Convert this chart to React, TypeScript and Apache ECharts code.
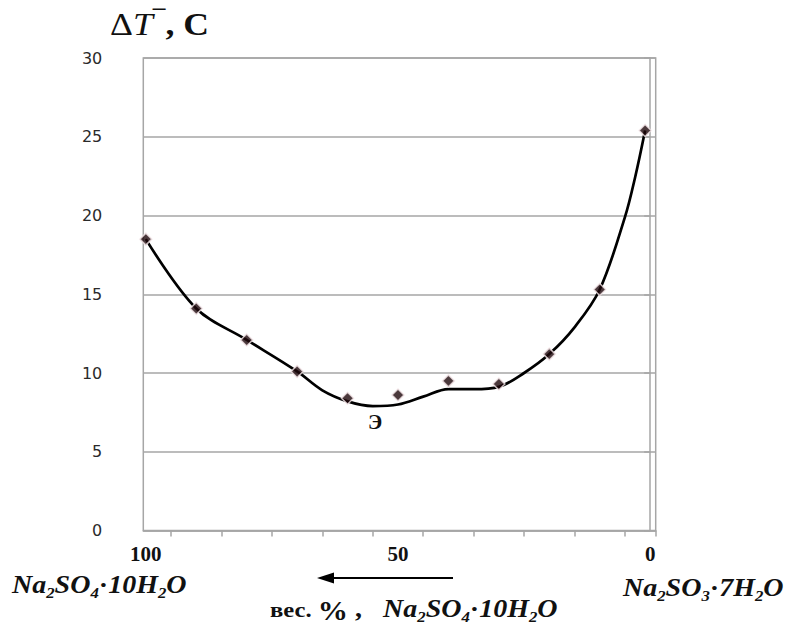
import React, { useEffect, useRef } from 'react';
import * as echarts from 'echarts';

// Measured points (x = wt.% Na2SO4·10H2O, y = ΔT⁻)
const markerX = [100, 90, 80, 70, 60, 50, 40, 30, 20, 10, 1];
const markerY = [18.5, 14.1, 12.1, 10.1, 8.4, 8.6, 9.5, 9.3, 11.2, 15.3, 25.4];

// Hand-drawn smoothed curve
const curveX = [100, 90, 80, 70, 65, 60, 55, 50, 45, 40, 35, 30, 25, 20, 15, 10, 5, 3, 1];
const curveY = [18.5, 14.1, 12.1, 10.1, 8.9, 8.2, 7.9, 8.0, 8.5, 8.98, 8.97, 9.12, 10.0, 11.2, 12.9, 15.3, 19.9, 22.4, 25.4];

const xTickValues = [95, 85, 75, 65, 55, 45, 35, 25, 15, 5];
const xLabelValues = [100, 50, 0];
const X_MIN = -1.1;
const X_MAX = 100.5;
const Y_MIN = 0;
const Y_MAX = 30;
const Y_STEP = 5;

const SERIF = '"Liberation Serif", "Times New Roman", serif';

export default function App() {
  const ref = useRef<HTMLDivElement>(null);
  useEffect(() => {
    const chart = echarts.init(ref.current!, null, { renderer: 'svg' });
    const gray = '#a6a6a6';
    const formulaRich = {
      m: { fontFamily: SERIF, fontSize: 25, fontStyle: 'italic', fontWeight: 'bold', fill: '#111', lineHeight: 30 },
      s: { fontFamily: SERIF, fontSize: 15, fontStyle: 'italic', fontWeight: 'bold', fill: '#111', lineHeight: 15, verticalAlign: 'bottom' },
      d: { fontFamily: SERIF, fontSize: 25, fontWeight: 'bold', fill: '#111', lineHeight: 30 },
      b: { fontFamily: SERIF, fontSize: 22, fontWeight: 'bold', fill: '#111', lineHeight: 30 },
      p: { fontFamily: SERIF, fontSize: 27, fontWeight: 'bold', fill: '#111', lineHeight: 26, verticalAlign: 'bottom' },
    };
    chart.setOption({
      animation: false,
      backgroundColor: '#ffffff',
      grid: {
        left: 143.3,
        right: 129.3,
        top: 58,
        bottom: 95.5,
        show: true,
        borderColor: gray,
        borderWidth: 1.5,
      },
      xAxis: {
        type: 'value',
        min: X_MIN,
        max: X_MAX,
        inverse: true,
        axisLine: { show: true, lineStyle: { color: gray, width: 1.5 } },
        axisTick: {
          show: true,
          length: 6,
          lineStyle: { color: gray, width: 1.5 },
          customValues: [...xTickValues, X_MIN],
        },
        axisLabel: {
          customValues: xLabelValues,
          margin: 13,
          fontFamily: SERIF,
          fontWeight: 'bold',
          fontSize: 21,
          color: '#111',
        },
        splitLine: { show: false },
      },
      yAxis: {
        type: 'value',
        min: Y_MIN,
        max: Y_MAX,
        interval: Y_STEP,
        axisLine: { show: true, lineStyle: { color: gray, width: 1.5 } },
        axisTick: { show: true, length: 6, lineStyle: { color: gray, width: 1.5 } },
        axisLabel: {
          margin: 41,
          fontFamily: '"DejaVu Sans", Verdana, sans-serif',
          fontSize: 16,
          color: '#2a2a2a',
        },
        splitLine: { show: true, lineStyle: { color: gray, width: 1.5 } },
      },
      series: [
        {
          type: 'line',
          data: curveX.map((x, i) => [x, curveY[i]]),
          smooth: 0.35,
          showSymbol: false,
          lineStyle: { color: '#000', width: 2.7 },
          z: 2,
        },
        {
          type: 'scatter',
          data: markerX.map((x, i) => [x, markerY[i]]),
          symbol: 'diamond',
          symbolSize: 12,
          itemStyle: { color: '#1e070b', borderColor: '#f4e6e8', borderWidth: 1.5 },
          z: 3,
        },
      ],
      graphic: [
        {
          type: 'text',
          x: 110,
          y: 6,
          scaleX: 1.15,
          style: {
            text: '{d|Δ}{t|T}{u|¯}{c|, C}',
            verticalAlign: 'top',
            rich: {
              d: { fontFamily: SERIF, fontSize: 31, fill: '#111', lineHeight: 36 },
              t: { fontFamily: SERIF, fontSize: 31, fontStyle: 'italic', fill: '#111', lineHeight: 36 },
              u: { fontFamily: SERIF, fontSize: 22, fontWeight: 'bold', fill: '#111', lineHeight: 22, verticalAlign: 'top' },
              c: { fontFamily: SERIF, fontSize: 31, fontWeight: 'bold', fill: '#111', lineHeight: 36 },
            },
          },
        },
        {
          type: 'text',
          x: 375,
          y: 422,
          style: {
            text: 'Э',
            fontFamily: SERIF,
            fontSize: 21,
            fontWeight: 'bold',
            fill: '#111',
            align: 'center',
            verticalAlign: 'middle',
          },
        },
        {
          type: 'text',
          x: 12,
          y: 570,
          scaleX: 1.12,
          style: {
            text: '{m|Na}{s|2}{m|SO}{s|4}{d|·}{m|10H}{s|2}{m|O}',
            verticalAlign: 'top',
            rich: formulaRich,
          },
        },
        {
          type: 'text',
          x: 623,
          y: 573,
          scaleX: 1.12,
          style: {
            text: '{m|Na}{s|2}{m|SO}{s|3}{d|·}{m|7H}{s|2}{m|O}',
            verticalAlign: 'top',
            rich: formulaRich,
          },
        },
        {
          type: 'text',
          x: 270,
          y: 594,
          scaleX: 1.12,
          style: {
            text: '{b|вес. }{p|%}{d| ,   }{m|Na}{s|2}{m|SO}{s|4}{d|·}{m|10H}{s|2}{m|O}',
            verticalAlign: 'top',
            rich: formulaRich,
          },
        },
        {
          type: 'line',
          shape: { x1: 453, y1: 578, x2: 330, y2: 578 },
          style: { stroke: '#000', lineWidth: 2 },
        },
        {
          type: 'polygon',
          shape: { points: [[317, 578], [334, 572.5], [334, 583.5]] },
          style: { fill: '#000' },
        },
      ],
    });
    return () => chart.dispose();
  }, []);
  return (
    <div
      ref={ref}
      style={{ position: 'absolute', left: 0, top: 0, width: 785, height: 626 }}
    />
  );
}
